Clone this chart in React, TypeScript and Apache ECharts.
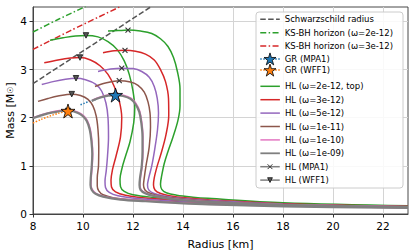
import React, { useEffect, useRef } from "react";
import * as echarts from "echarts";

const xTickValues = [8, 10, 12, 14, 16, 18, 20, 22];
const yTickValues = [0, 1, 2, 3, 4];

const schwarzschild = [[8.0, 2.709], [12.7, 4.3]];
const ksbh2 = [[8.0, 3.78], [9.0, 4.04], [10.1, 4.31]];
const ksbh3 = [[8.0, 3.42], [9.5, 3.81], [11.5, 4.31]];

const grMpa1Star = [[11.3, 2.47]];
const grWff1Star = [[9.4, 2.14]];
const grMpa1Curve = [[9.9, 2.27], [10.05, 2.3], [10.2, 2.33], [10.35, 2.35], [10.7, 2.42], [11.0, 2.46], [11.3, 2.47]];
const grWff1Curve = [[8.0, 1.89], [8.3, 1.96], [8.7, 2.04], [9.0, 2.09], [9.4, 2.14]];

// WFF1 family (left)
const hl2L = [[8.68, 3.61], [9.2, 3.66], [9.7, 3.7], [10.12, 3.71], [10.6, 3.68], [11.0, 3.58], [11.36, 3.42], [11.65, 3.18], [11.85, 2.9], [12.0, 2.55], [12.07, 2.2], [12.03, 1.9], [11.88, 1.5], [11.7, 1.2], [11.56, 0.95], [11.48, 0.72], [11.5, 0.57], [11.65, 0.47], [12.0, 0.4], [12.8, 0.345], [13.8, 0.305], [15, 0.265], [18, 0.2], [23, 0.15]];
const hl3L = [[8.45, 3.14], [9.0, 3.2], [9.5, 3.24], [9.88, 3.25], [10.3, 3.2], [10.68, 3.08], [11.0, 2.9], [11.25, 2.65], [11.45, 2.35], [11.55, 2.0], [11.5, 1.6], [11.32, 1.2], [11.18, 0.92], [11.12, 0.7], [11.14, 0.56], [11.3, 0.46], [11.7, 0.39], [12.5, 0.33], [13.6, 0.285], [15, 0.24], [18, 0.185], [23, 0.14]];
const hl5L = [[8.35, 2.69], [8.8, 2.75], [9.3, 2.8], [9.72, 2.82], [10.1, 2.79], [10.5, 2.7], [10.75, 2.55], [10.92, 2.3], [11.0, 2.0], [11.02, 1.6], [10.98, 1.2], [10.93, 0.9], [10.88, 0.68], [10.9, 0.55], [11.05, 0.45], [11.4, 0.38], [12.2, 0.32], [13.4, 0.275], [15, 0.225], [18, 0.175], [23, 0.135]];
const hl11L = [[8.2, 2.34], [8.6, 2.4], [9.0, 2.45], [9.55, 2.49], [9.9, 2.46], [10.2, 2.38], [10.4, 2.24], [10.53, 2.03], [10.6, 1.75], [10.63, 1.4], [10.62, 1.0], [10.57, 0.75], [10.57, 0.58], [10.63, 0.48], [10.8, 0.4], [11.2, 0.34], [12.0, 0.295], [13.2, 0.255], [15, 0.215], [18, 0.17], [23, 0.13]];
const hl10L = [[8.0, 2.0], [8.4, 2.075], [8.8, 2.125], [9.2, 2.155], [9.5, 2.155], [9.8, 2.115], [10.02, 2.045], [10.17, 1.945], [10.29, 1.765], [10.36, 1.51], [10.39, 1.25], [10.37, 1.0], [10.33, 0.75], [10.32, 0.6], [10.37, 0.51], [10.52, 0.43], [10.82, 0.37], [11.5, 0.31], [12.5, 0.272], [13.7, 0.236], [15, 0.205], [18, 0.165], [23, 0.13]];
const hl9L = [[8.0, 1.99], [8.4, 2.06], [8.8, 2.11], [9.2, 2.14], [9.5, 2.14], [9.8, 2.1], [10.0, 2.03], [10.15, 1.93], [10.27, 1.75], [10.34, 1.5], [10.37, 1.25], [10.35, 1.0], [10.31, 0.75], [10.3, 0.6], [10.35, 0.5], [10.5, 0.42], [10.8, 0.36], [11.5, 0.3], [12.5, 0.265], [13.7, 0.23], [15, 0.2], [18, 0.16], [23, 0.125]];

// MPA1 family (right)
const hl2R = [[11.0, 3.8], [11.4, 3.81], [11.8, 3.82], [12.3, 3.8], [12.75, 3.75], [13.1, 3.64], [13.4, 3.48], [13.62, 3.25], [13.78, 2.95], [13.88, 2.6], [13.88, 2.25], [13.8, 1.95], [13.6, 1.6], [13.4, 1.3], [13.25, 1.05], [13.15, 0.8], [13.1, 0.62], [13.15, 0.51], [13.33, 0.44], [13.75, 0.39], [14.4, 0.35], [15, 0.325], [18, 0.235], [23, 0.17]];
const hl3R = [[10.8, 3.35], [11.25, 3.39], [11.68, 3.4], [12.1, 3.38], [12.5, 3.32], [12.85, 3.2], [13.1, 3.0], [13.3, 2.75], [13.42, 2.4], [13.43, 2.05], [13.32, 1.65], [13.12, 1.25], [12.97, 1.0], [12.85, 0.75], [12.82, 0.6], [12.88, 0.5], [13.08, 0.43], [13.45, 0.38], [14.2, 0.33], [15, 0.295], [18, 0.215], [23, 0.16]];
const hl5R = [[10.6, 2.96], [11.1, 3.01], [11.55, 3.03], [12.0, 3.02], [12.35, 2.96], [12.65, 2.84], [12.85, 2.65], [12.97, 2.4], [13.02, 2.1], [12.98, 1.75], [12.87, 1.35], [12.75, 1.0], [12.63, 0.75], [12.58, 0.6], [12.63, 0.5], [12.82, 0.43], [13.2, 0.38], [14, 0.32], [15, 0.28], [18, 0.205], [23, 0.155]];
const hl11R = [[10.48, 2.65], [10.9, 2.72], [11.45, 2.77], [11.9, 2.74], [12.2, 2.67], [12.45, 2.53], [12.6, 2.33], [12.68, 2.1], [12.7, 1.8], [12.65, 1.4], [12.52, 1.0], [12.45, 0.75], [12.42, 0.6], [12.48, 0.5], [12.68, 0.43], [13.05, 0.375], [13.8, 0.32], [15, 0.265], [18, 0.195], [23, 0.15]];
const hl10R = [[10.37, 2.365], [10.72, 2.435], [11.02, 2.475], [11.32, 2.485], [11.62, 2.465], [11.92, 2.405], [12.12, 2.295], [12.27, 2.135], [12.35, 1.915], [12.4, 1.61], [12.4, 1.3], [12.37, 1.0], [12.3, 0.75], [12.28, 0.6], [12.32, 0.51], [12.5, 0.44], [12.87, 0.38], [13.6, 0.317], [15, 0.255], [18, 0.195], [23, 0.15]];
const hl9R = [[10.35, 2.35], [10.7, 2.42], [11.0, 2.46], [11.3, 2.47], [11.6, 2.45], [11.9, 2.39], [12.1, 2.28], [12.25, 2.12], [12.33, 1.9], [12.38, 1.6], [12.38, 1.3], [12.35, 1.0], [12.28, 0.75], [12.26, 0.6], [12.3, 0.5], [12.48, 0.43], [12.85, 0.37], [13.6, 0.31], [15, 0.25], [18, 0.19], [23, 0.145]];

const mpa1Max = [[11.8, 3.82], [11.68, 3.4], [11.55, 3.03], [11.45, 2.77], [11.3, 2.47]];
const wff1Max = [[10.12, 3.71], [9.88, 3.25], [9.72, 2.82], [9.55, 2.49], [9.4, 2.14]];

const GREEN = "#2ca02c";
const RED = "#d62728";
const PURPLE = "#9467bd";
const BROWN = "#8c564b";
const PINK = "#e377c2";
const GRAY = "#7f7f7f";
const BLUE = "#1f77b4";
const ORANGE = "#ff7f0e";
const SCHW = "#555555";

const STAR =
  "path://M10,0L12.245,6.91L19.51,6.91L13.63,11.18L15.88,18.09L10,13.82L4.12,18.09L6.37,11.18L0.49,6.91L7.755,6.91Z";
const XMARK = "path://M0,0L10,10M10,0L0,10";
const DASH = [5.5, 2.4];
const DASHDOT = [6, 2.4, 1.5, 2.4];

const FONT = "DejaVu Sans";

function withGaps(points: number[][]) {
  const out: any[] = [];
  points.forEach((p, i) => {
    if (i > 0) out.push(null);
    out.push(p);
  });
  return out;
}

function hl(name: string, color: string, data: number[][], width = 1.5, z = 3) {
  return {
    type: "line",
    name,
    data,
    showSymbol: false,
    symbol: "none",
    smooth: 0.35,
    z,
    lineStyle: { color, width },
    itemStyle: { color },
  };
}

const LEG_LEFT = 259.5;
const legendBase = {
  orient: "vertical",
  left: LEG_LEFT,
  padding: 0,
  itemWidth: 19.5,
  z: 7,
  backgroundColor: "transparent",
  borderWidth: 0,
  textStyle: { fontFamily: FONT, fontSize: 8.5, color: "#000", lineHeight: 10 },
};
const noSym = { opacity: 0 };

export default function App() {
  const ref = useRef<HTMLDivElement>(null);
  useEffect(() => {
    if (!ref.current) return;
    const chart = echarts.init(ref.current, null, { renderer: "svg" });
    const option: any = {
      animation: false,
      backgroundColor: "#ffffff",
      textStyle: { fontFamily: FONT },
      grid: {
        left: 33,
        right: 8,
        top: 7,
        bottom: 37,
        show: true,
        borderColor: "#333",
        borderWidth: 0.9,
        backgroundColor: "transparent",
        outerBoundsMode: "none",
        containLabel: false,
      },
      xAxis: {
        type: "value",
        min: 8,
        max: 23,
        interval: 2,
        name: "Radius [km]",
        nameLocation: "middle",
        nameGap: 25,
        nameMoveOverlap: false,
        nameTextStyle: { fontFamily: FONT, fontSize: 11, color: "#000" },
        axisLine: { show: true, lineStyle: { color: "#333", width: 0.9 } },
        axisTick: { show: true, length: 3.5, lineStyle: { color: "#333" }, customValues: xTickValues },
        axisLabel: { fontFamily: FONT, fontSize: 10.5, color: "#000", margin: 6, customValues: xTickValues },
        splitLine: { show: true, lineStyle: { color: "#d4d4d4", width: 1 } },
      },
      yAxis: {
        type: "value",
        min: 0,
        max: 4.3,
        interval: 1,
        name: "Mass [M{s|☉}]",
        nameLocation: "middle",
        nameGap: 17,
        nameMoveOverlap: false,
        nameTextStyle: { fontFamily: FONT, fontSize: 11, color: "#000", rich: { s: { fontFamily: FONT, fontSize: 8, color: "#000" } } },
        axisLine: { show: true, lineStyle: { color: "#333", width: 0.9 } },
        axisTick: { show: true, length: 3.5, lineStyle: { color: "#333" }, customValues: yTickValues },
        axisLabel: { fontFamily: FONT, fontSize: 10.5, color: "#000", margin: 6, customValues: yTickValues },
        splitLine: { show: true, lineStyle: { color: "#d4d4d4", width: 1 } },
      },
      graphic: [
        {
          type: "rect",
          z: 6,
          shape: { x: 256, y: 12, width: 147, height: 176, r: 3 },
          style: { fill: "rgba(255,255,255,0.85)", stroke: "#cccccc", lineWidth: 1 },
        },
      ],
      legend: [
        {
          ...legendBase,
          top: 14.3,
          itemHeight: 10,
          itemGap: 3.4,
          data: [
            { name: "Schwarzschild radius", lineStyle: { type: DASH, width: 1.5 }, itemStyle: noSym },
            { name: "KS-BH horizon (ω=2e-12)", lineStyle: { type: DASHDOT, width: 1.5 }, itemStyle: noSym },
            { name: "KS-BH horizon (ω=3e-12)", lineStyle: { type: DASHDOT, width: 1.5 }, itemStyle: noSym },
          ],
        },
        {
          ...legendBase,
          top: 52.5,
          itemHeight: 15,
          itemGap: -1.6,
          data: [
            { name: "GR (MPA1)", lineStyle: { type: "dotted", width: 1.5 }, itemStyle: { color: BLUE, borderColor: "#000", borderWidth: 0.8 } },
            { name: "GR (WFF1)", lineStyle: { type: "dotted", width: 1.5 }, itemStyle: { color: ORANGE, borderColor: "#000", borderWidth: 0.8 } },
          ],
        },
        {
          ...legendBase,
          top: 81.3,
          itemHeight: 10,
          itemGap: 3.4,
          data: [
            { name: "HL (ω=2e-12, top)", lineStyle: { width: 1.5 }, itemStyle: noSym },
            { name: "HL (ω=3e-12)", lineStyle: { width: 1.5 }, itemStyle: noSym },
            { name: "HL (ω=5e-12)", lineStyle: { width: 1.5 }, itemStyle: noSym },
            { name: "HL (ω=1e-11)", lineStyle: { width: 1.5 }, itemStyle: noSym },
            { name: "HL (ω=1e-10)", lineStyle: { width: 1.5 }, itemStyle: noSym },
            { name: "HL (ω=1e-09)", lineStyle: { width: 1.8 }, itemStyle: noSym },
          ],
        },
        {
          ...legendBase,
          top: 161.7,
          itemHeight: 6,
          itemGap: 3.4,
          data: [
            { name: "HL (MPA1)", lineStyle: { width: 1.5 }, itemStyle: { color: "transparent", borderColor: "#333", borderWidth: 1 } },
            { name: "HL (WFF1)", lineStyle: { width: 1.5 }, itemStyle: { color: "#555", borderColor: "#111", borderWidth: 0.8 } },
          ],
        },
      ],
      series: [
        {
          type: "line",
          name: "Schwarzschild radius",
          data: schwarzschild,
          symbol: "none",
          z: 2,
          lineStyle: { color: SCHW, width: 1.5, type: DASH },
          itemStyle: { color: SCHW },
        },
        {
          type: "line",
          name: "KS-BH horizon (ω=2e-12)",
          data: ksbh2,
          symbol: "none",
          smooth: 0.3,
          z: 2,
          lineStyle: { color: GREEN, width: 1.5, type: DASHDOT },
          itemStyle: { color: GREEN },
        },
        {
          type: "line",
          name: "KS-BH horizon (ω=3e-12)",
          data: ksbh3,
          symbol: "none",
          smooth: 0.3,
          z: 2,
          lineStyle: { color: RED, width: 1.5, type: DASHDOT },
          itemStyle: { color: RED },
        },
        {
          type: "line",
          name: "GR (MPA1)",
          data: grMpa1Star,
          symbol: STAR,
          symbolSize: 14,
          z: 10,
          lineStyle: { color: BLUE, width: 1.5, type: "dotted" },
          itemStyle: { color: BLUE, borderColor: "#000", borderWidth: 0.8 },
        },
        {
          type: "line",
          name: "GR (WFF1)",
          data: grWff1Star,
          symbol: STAR,
          symbolSize: 14,
          z: 10,
          lineStyle: { color: ORANGE, width: 1.5, type: "dotted" },
          itemStyle: { color: ORANGE, borderColor: "#000", borderWidth: 0.8 },
        },
        {
          type: "line",
          name: "GR (MPA1)",
          data: grMpa1Curve,
          symbol: "none",
          smooth: 0.3,
          z: 2,
          lineStyle: { color: BLUE, width: 1.5, type: "dotted" },
        },
        {
          type: "line",
          name: "GR (WFF1)",
          data: grWff1Curve,
          symbol: "none",
          smooth: 0.3,
          z: 2,
          lineStyle: { color: ORANGE, width: 1.5, type: "dotted" },
        },
        hl("HL (ω=2e-12, top)", GREEN, hl2L),
        hl("HL (ω=2e-12, top)", GREEN, hl2R),
        hl("HL (ω=3e-12)", RED, hl3L),
        hl("HL (ω=3e-12)", RED, hl3R),
        hl("HL (ω=5e-12)", PURPLE, hl5L),
        hl("HL (ω=5e-12)", PURPLE, hl5R),
        hl("HL (ω=1e-11)", BROWN, hl11L),
        hl("HL (ω=1e-11)", BROWN, hl11R),
        hl("HL (ω=1e-10)", PINK, hl10L),
        hl("HL (ω=1e-10)", PINK, hl10R),
        hl("HL (ω=1e-09)", GRAY, hl9L, 2.2, 4),
        hl("HL (ω=1e-09)", GRAY, hl9R, 2.2, 4),
        {
          type: "line",
          name: "HL (MPA1)",
          data: withGaps(mpa1Max),
          symbol: XMARK,
          symbolSize: 5,
          showSymbol: true,
          z: 8,
          connectNulls: false,
          lineStyle: { color: GRAY, width: 1.5 },
          itemStyle: { color: "transparent", borderColor: "#333", borderWidth: 1.1 },
        },
        {
          type: "line",
          name: "HL (WFF1)",
          data: withGaps(wff1Max),
          symbol: "triangle",
          symbolRotate: 180,
          symbolSize: 5.5,
          showSymbol: true,
          z: 8,
          connectNulls: false,
          lineStyle: { color: GRAY, width: 1.5 },
          itemStyle: { color: "#555", borderColor: "#111", borderWidth: 0.8 },
        },
      ],
    };
    chart.setOption(option);
    return () => chart.dispose();
  }, []);
  return <div ref={ref} style={{ position: "fixed", left: 0, top: 0, width: 416, height: 251 }} />;
}
